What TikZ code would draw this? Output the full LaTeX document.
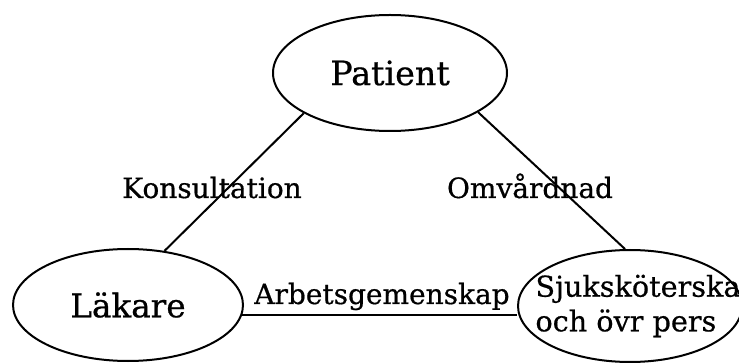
\documentclass[tikz,border=0pt]{standalone}
\usepackage{fontspec}
\setmainfont{DejaVu Serif}[FakeBold=0.6]
\usetikzlibrary{shapes.geometric}

\tikzset{
  roll/.style={draw, ellipse, line width=1.5pt, inner sep=0pt},
  tie/.style={line width=1.5pt},
  tielabel/.style={font=\fontsize{21}{25}\selectfont, anchor=base, inner sep=0pt}
}

\begin{document}
\begin{tikzpicture}[x=0.75pt,y=-0.75pt]
\path[use as bounding box] (0,0) rectangle (739,363);
% the three parties
\node[roll, minimum width=175.5pt, minimum height=87pt, font=\fontsize{25}{29}\selectfont] (patient) at (390,73) {Patient};
\node[roll, minimum width=172.5pt, minimum height=84pt, font=\fontsize{24.5}{28}\selectfont] (lakare) at (128,305) {Läkare};
\node[roll, minimum width=168pt, minimum height=84pt,
  label={[font=\fontsize{21.5}{26}\selectfont, align=left, xshift=6pt]center:Sjuksköterska\\och övr pers}] (sjuk) at (630,306) {};
% relations
\draw[tie] (patient.205) -- (lakare.56);
\draw[tie] (patient.336) -- (sjuk.95);
\draw[tie] (lakare.-5) -- (sjuk.west |- lakare.-5);
\node[tielabel] (konsult) at (212,198) {Konsultation};
\node[tielabel] (omvard) at (530,198) {Omvårdnad};
\node[tielabel] (arbete) at (382,304) {Arbetsgemenskap};
\end{tikzpicture}
\end{document}
